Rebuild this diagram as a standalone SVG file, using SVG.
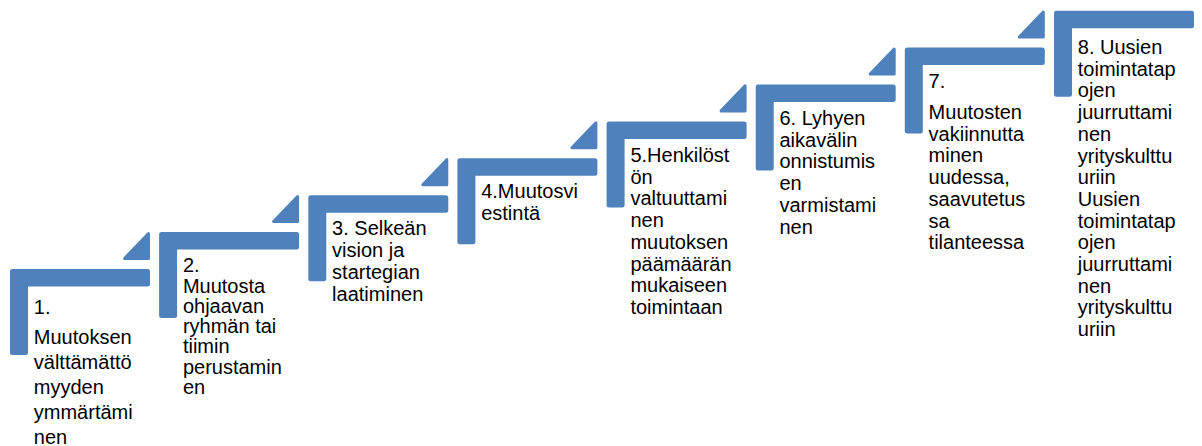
<svg xmlns="http://www.w3.org/2000/svg" xmlns:xlink="http://www.w3.org/1999/xlink" width="1202" height="446" viewBox="0 0 1202 446">
<style>
.shape{fill:#4F81BD}
.tri{fill:#4F81BD;stroke:#4F81BD;stroke-width:3;stroke-linejoin:round}
.lbl{font-family:"Liberation Sans",Arial,sans-serif;font-size:20px;fill:#000}
</style>
<defs>
<path id="L" class="shape" d="M2.5,0 H137.5 Q140,0 140,2.5 V15 Q140,17.5 137.5,17.5 H18 V83.5 Q18,86 15.5,86 H2.5 Q0,86 0,83.5 V2.5 Q0,0 2.5,0 Z"/>
<path id="T" class="tri" d="M138.5,-35.5 V-10.5 H114.5 Z"/>
</defs>
<rect width="1202" height="446" fill="#fff"/>
<g id="connectors"></g>
<g id="step1">
<use xlink:href="#L" x="10" y="269"/><use xlink:href="#T" x="10" y="269"/>
<text class="lbl"><tspan x="33.8" y="313.5">1.</tspan><tspan x="33.8" y="343.5">Muutoksen</tspan><tspan x="33.8" y="368.8">välttämättö</tspan><tspan x="33.8" y="394">myyden</tspan><tspan x="33.8" y="419.3">ymmärtämi</tspan><tspan x="33.8" y="444">nen</tspan></text>
</g>
<g id="step2">
<use xlink:href="#L" x="159.1" y="232.1"/><use xlink:href="#T" x="159.1" y="232.1"/>
<text class="lbl"><tspan x="182.9" y="272">2.</tspan><tspan x="182.9" y="292.5">Muutosta</tspan><tspan x="182.9" y="312.8">ohjaavan</tspan><tspan x="182.9" y="333.1">ryhmän tai</tspan><tspan x="182.9" y="353.4">tiimin</tspan><tspan x="182.9" y="373.7">perustamin</tspan><tspan x="182.9" y="394">en</tspan></text>
</g>
<g id="step3">
<use xlink:href="#L" x="308.3" y="195.2"/><use xlink:href="#T" x="308.3" y="195.2"/>
<text class="lbl"><tspan x="332.1" y="235">3. Selkeän</tspan><tspan x="332.1" y="257">vision ja</tspan><tspan x="332.1" y="279">startegian</tspan><tspan x="332.1" y="301">laatiminen</tspan></text>
</g>
<g id="step4">
<use xlink:href="#L" x="457.4" y="158.3"/><use xlink:href="#T" x="457.4" y="158.3"/>
<text class="lbl"><tspan x="481.2" y="198.3">4.Muutosvi</tspan><tspan x="481.2" y="220">estintä</tspan></text>
</g>
<g id="step5">
<use xlink:href="#L" x="606.6" y="121.4"/><use xlink:href="#T" x="606.6" y="121.4"/>
<text class="lbl"><tspan x="630.4" y="161.7">5.Henkilöst</tspan><tspan x="630.4" y="183.5">ön</tspan><tspan x="630.4" y="205.2">valtuuttami</tspan><tspan x="630.4" y="227">nen</tspan><tspan x="630.4" y="248.7">muutoksen</tspan><tspan x="630.4" y="270.5">päämäärän</tspan><tspan x="630.4" y="292.2">mukaiseen</tspan><tspan x="630.4" y="314">toimintaan</tspan></text>
</g>
<g id="step6">
<use xlink:href="#L" x="755.7" y="84.5"/><use xlink:href="#T" x="755.7" y="84.5"/>
<text class="lbl"><tspan x="779.5" y="125">6. Lyhyen</tspan><tspan x="779.5" y="146.7">aikavälin</tspan><tspan x="779.5" y="168.4">onnistumis</tspan><tspan x="779.5" y="190.1">en</tspan><tspan x="779.5" y="211.8">varmistami</tspan><tspan x="779.5" y="233.5">nen</tspan></text>
</g>
<g id="step7">
<use xlink:href="#L" x="904.8" y="47.6"/><use xlink:href="#T" x="904.8" y="47.6"/>
<text class="lbl"><tspan x="928.6" y="88">7.</tspan><tspan x="928.6" y="119">Muutosten</tspan><tspan x="928.6" y="140.7">vakiinnutta</tspan><tspan x="928.6" y="162.4">minen</tspan><tspan x="928.6" y="184.1">uudessa,</tspan><tspan x="928.6" y="205.8">saavutetus</tspan><tspan x="928.6" y="227.5">sa</tspan><tspan x="928.6" y="249.2">tilanteessa</tspan></text>
</g>
<g id="step8">
<use xlink:href="#L" x="1054" y="10.7"/>
<text class="lbl"><tspan x="1077.8" y="54">8. Uusien</tspan><tspan x="1077.8" y="75.7">toimintatap</tspan><tspan x="1077.8" y="97.4">ojen</tspan><tspan x="1077.8" y="119.1">juurruttami</tspan><tspan x="1077.8" y="140.8">nen</tspan><tspan x="1077.8" y="162.5">yrityskulttu</tspan><tspan x="1077.8" y="184.2">uriin</tspan><tspan x="1077.8" y="205.9">Uusien</tspan><tspan x="1077.8" y="227.6">toimintatap</tspan><tspan x="1077.8" y="249.3">ojen</tspan><tspan x="1077.8" y="271">juurruttami</tspan><tspan x="1077.8" y="292.7">nen</tspan><tspan x="1077.8" y="314.4">yrityskulttu</tspan><tspan x="1077.8" y="336.1">uriin</tspan></text>
</g>
</svg>
